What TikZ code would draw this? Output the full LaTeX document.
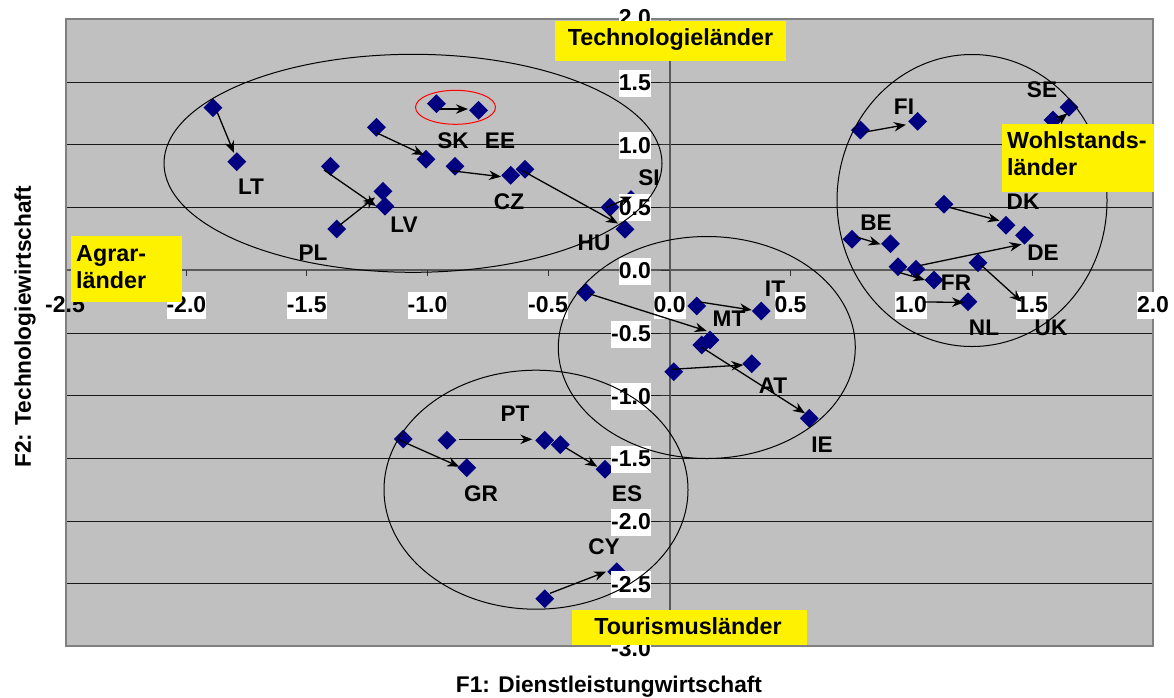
\documentclass[tikz,border=0pt]{standalone}
\usepackage{fontspec}
\setmainfont{Liberation Sans}
\usetikzlibrary{arrows.meta,shapes.geometric}
\definecolor{plotbg}{HTML}{C0C0C0}
\definecolor{mark}{HTML}{000080}
\definecolor{frame}{HTML}{808080}
\tikzset{
  grid line/.style={draw=black!90,line width=1pt},
  axis line/.style={draw=black!65,line width=1.8pt},
  tick line/.style={draw=black!80,line width=1pt},
  frame line/.style={draw=frame,line width=1.8pt},
  marker/.style={diamond,fill=mark,draw=none,inner sep=0pt,minimum width=19pt,minimum height=19pt},
  ticklabel/.style={fill=white,font=\bfseries\fontsize{23}{23}\selectfont,inner sep=0pt,minimum height=27pt,anchor=center},
  country/.style={font=\bfseries\fontsize{22.6}{22.6}\selectfont,inner sep=0pt,text=black,yshift=-1pt},
  move/.style={draw=black,line width=1.3pt,-{Stealth[length=12pt,width=9.5pt]}},
  group/.style={draw=black,line width=1pt,fill=none},
  tag/.style={fill=yellow,inner sep=0pt},
  tagtext/.style={font=\bfseries\fontsize{23.3}{27.5}\selectfont,inner sep=0pt},
  axistitle/.style={font=\bfseries\fontsize{22.7}{22.7}\selectfont,inner sep=0pt},
}
\begin{document}
\begin{tikzpicture}[x=1pt,y=-1pt]
\useasboundingbox (0,0) rectangle (1174,697);
\fill[plotbg] (66,19) rectangle (1153,646);
\foreach \yy in {82,144.5,207.5,333,395.5,458,521,583.5}
  \draw[grid line] (66,\yy) -- (1153,\yy);
\draw[axis line] (66,270) -- (1153,270);
\draw[axis line] (669.6,19) -- (669.6,646);
\foreach \xx in {66,186.4,306.8,427.5,548,790.5,911,1032,1153}
  \draw[tick line] (\xx,270) -- (\xx,276);
\foreach \yy in {19,82,144.5,207.5,270,333,395.5,458,521,583.5,646}
  \draw[tick line] (661,\yy) -- (669.6,\yy);
\draw[frame line] (66,19) rectangle (1153,646);
% data points
\foreach \n/\xx/\yy in {
 lta/212.9/107.7,ltb/236.8/161.7,ska/436.4/103.7,skb/478.6/110.3,
 eea/376.4/127.3,eeb/426/159.3,cza/455/166.3,czb/510.7/175.3,
 hua/525/169.3,hub/625/229.3,lva/330.4/166.3,lvb/385/206.3,
 pla/336.8/229,plb/382.9/191.3,sia/610/207.3,sib/631/199.5,
 fia/860.4/130,fib/917.6/121.3,sea/1053/120,seb/1069/107.3,
 dka/944/204.3,dkb/1006/225.3,dea/916/269.3,deb/1024.5/235.3,
 bea/852/239.3,beb/890.5/243.7,fra/898/266.7,frb/934/280,
 nla/911/302,nlb/968/301.7,uka/978/262.7,ukb/1032/305,
 ita/696.7/306,itb/761.3/311,mta/585.7/292.3,mtb/710/340,
 iea/701.7/345,ieb/809.3/418.3,ata/673.7/371.7,atb/751.7/363.7,
 gra/403.3/439,grb/466.7/467.7,pta/447/440.3,ptb/544.7/440.3,
 esa/560.3/444.7,esb/605/469.3,cya/544.7/598.7,cyb/616.7/571.7}
  \node[marker] (\n) at (\xx,\yy) {};
% country labels
\foreach \n/\xx/\yy/\t in {
 lLT/251/186/LT,lLV/404/224/LV,lPL/313/252/PL,lSK/453/140/SK,lEE/500/140/EE,
 lCZ/509/201/CZ,lHU/594/242/HU,lSI/649/177/SI,lFI/904/106/FI,lSE/1042/89/SE,
 lDK/1023/201/DK,lBE/876/222/BE,lDE/1043/252/DE,lFR/956/282/FR,lNL/984/327/NL,
 lUK/1051/327/UK,lIT/775/288/IT,lMT/729/318/MT,lAT/773/385/AT,lIE/822/444/IE,
 lPT/515/413/PT,lGR/481/493/GR,lES/627/493/ES,lCY/604/546/CY}
  \node[country] (\n) at (\xx,\yy) {\t};
% tick labels
\node[ticklabel,fill=none] (xa) at (65,305) {-2.5};
\foreach \n/\xx/\t in {b/186.4/-2.0,c/306.8/-1.5,d/427.5/-1.0,e/548/-0.5,f/669.6/0.0,g/790.5/0.5,h/911/1.0,i/1032/1.5,j/1153/2.0}
  \node[ticklabel] (x\n) at (\xx,305) {\t};
\foreach \n/\yy/\t in {a/18/2.0,b/83/1.5,c/145.5/1.0,d/207.5/0.5,e/271/0.0}
  \node[ticklabel,anchor=east] (y\n) at (651,\yy) {\t};
\foreach \n/\yy/\t in {f/334/-0.5,g/396.5/-1.0,h/459/-1.5,i/522/-2.0,j/584.5/-2.5,k/649/-3.0}
  \node[ticklabel,anchor=east] (y\n) at (651,\yy) {\t};
% group ellipses
\node[group,ellipse,inner sep=0pt,minimum width=498pt,minimum height=218pt] (agr) at (413,163.3) {};
\node[group,ellipse,inner sep=0pt,minimum width=270pt,minimum height=292pt] (woh) at (972,200.5) {};
\node[group,ellipse,inner sep=0pt,minimum width=297pt,minimum height=222pt] (mid) at (706.8,347.5) {};
\node[group,ellipse,inner sep=0pt,minimum width=304pt,minimum height=239pt] (tou) at (536,489.7) {};
\node[ellipse,draw=red,line width=1pt,inner sep=0pt,minimum width=80pt,minimum height=34pt] (red) at (455.5,107.3) {};
% arrows
\foreach \n/\ax/\ay/\bx/\by in {
 a/217/111.7/234/153, b/438.6/109/467.9/109, c/376.4/132.7/424/155,
 d/451/170.7/501/176.7, e/522.5/170.7/618/223.5, f/324/170/376/206,
 g/338.6/226/375/197.3, h/606/207.5/632/196.5, i/865/132/905.9/124.7,
 j/1057/121.7/1067.5/113.3, k/949/207.3/999.5/220.7, l/855.5/236.7/880.5/244.3,
 m/900/272.7/925/280, n/919/265.7/1021.5/244.3, o/924.5/302/964/302.3,
 p/981/265/1021.5/301.7, q/590/294/706.7/331, r/700/302/751.7/310,
 s/701.7/347.3/805/413.3, t/671.7/369.3/743.3/365, u/399.3/440/459.3/466.7,
 v/459.3/439.3/532.3/439.3, w/565/447.3/597.3/466.7, x/550/593.3/606/571.7}
{
  \coordinate (\n t) at (\ax,\ay);
  \coordinate (\n h) at (\bx,\by);
  \draw[move] (\n t) -- (\n h);
}
% yellow tags
\node[tag,minimum width=231pt,minimum height=40pt] (tech) at (670.5,41) {};
\node[tagtext] (techt) at (670.5,39.5) {Technologieländer};
\node[tag,minimum width=111pt,minimum height=66pt] (agrb) at (126.5,269) {};
\node[tagtext,align=left,anchor=north west] (agrt) at (76,245) {Agrar-\\länder};
\node[tag,minimum width=152pt,minimum height=68pt] (wohb) at (1078,158) {};
\node[tagtext,align=left,anchor=north west] (coht) at (1007,131) {Wohlstands-\\länder};
\node[tag,minimum width=235pt,minimum height=35pt] (toub) at (689.5,627.5) {};
\node[tagtext] (tout) at (688,626) {Tourismusländer};
% axis titles
\node[axistitle] (xtitle) at (609,686.5) {F1: Dienstleistungwirtschaft};
\node[axistitle,rotate=90] (ytitle) at (25,327) {F2: Technologiewirtschaft};
\end{tikzpicture}
\end{document}
